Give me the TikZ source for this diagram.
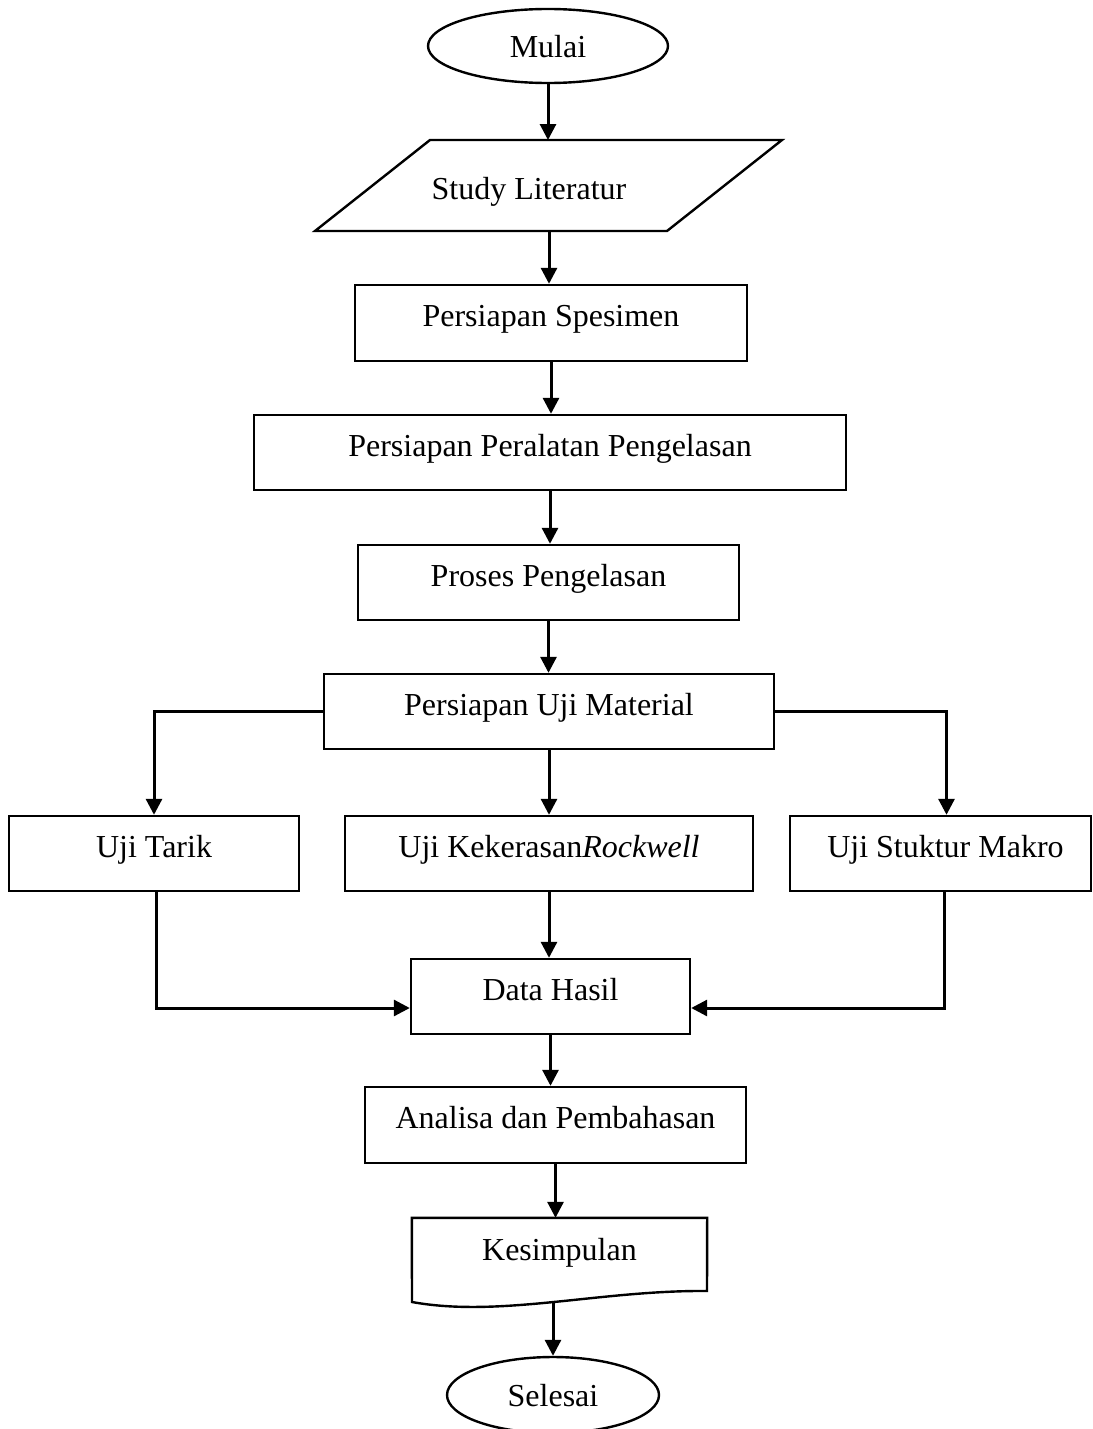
\documentclass[tikz,border=0pt]{standalone}
\usepackage{fontspec}
\setmainfont{Liberation Serif}
\usetikzlibrary{arrows.meta,shapes.geometric}
\begin{document}
\begin{tikzpicture}[x=1pt,y=-1pt,
  font=\fontsize{32}{38}\selectfont,
  shapeline/.style={draw=black,line width=2.4pt},
  procbox/.style={shapeline,rectangle,inner sep=0pt,text height=22pt,text depth=15pt},
  term/.style={shapeline,ellipse,inner sep=0pt,text height=22pt,text depth=0pt},
  arr/.style={draw=black,line width=3pt,-{Triangle[length=16pt,width=16pt]}}]
\useasboundingbox (0,0) rectangle (1092,1429);

% terminals
\node[term,minimum width=240pt,minimum height=74pt] (mulai) at (548,46) {Mulai};
\node[term,minimum width=212pt,minimum height=76pt] (sel) at (553,1395) {Selesai};

% input parallelogram
\coordinate (litT) at (548,140);
\coordinate (litB) at (549,231);
\draw[shapeline] (430,140) -- (782,140) -- (667,231) -- (315,231) -- cycle;
\node[text height=22pt,text depth=7pt,inner sep=0pt] (lit) at (529,192) {Study Literatur};

% process boxes
\node[procbox,minimum width=392pt,minimum height=76pt] (spes) at (551,323) {Persiapan Spesimen};
\node[procbox,minimum width=592pt,minimum height=75pt] (alat) at (550,452.5) {Persiapan Peralatan Pengelasan};
\node[procbox,minimum width=381pt,minimum height=75pt] (proses) at (548.5,582.5) {Proses Pengelasan};
\node[procbox,minimum width=450pt,minimum height=75pt] (uji) at (549,711.5) {Persiapan Uji Material};
\node[procbox,minimum width=290pt,minimum height=75pt] (tarik) at (154,853.5) {Uji Tarik};
\node[procbox,minimum width=408pt,minimum height=75pt] (keras) at (549,853.5) {Uji Kekerasan\textit{Rockwell}};
\node[procbox,minimum width=301pt,minimum height=75pt] (makro) at (940.5,853.5) {\hspace*{10pt}Uji Stuktur Makro};
\node[procbox,minimum width=279pt,minimum height=75pt] (data) at (550.5,996.5) {Data Hasil};
\node[procbox,minimum width=381pt,minimum height=76pt] (ana) at (555.5,1125) {Analisa dan Pembahasan};

% document shape
\node[rectangle,inner sep=0pt,minimum width=295pt,minimum height=84pt,text height=22pt,text depth=21pt] (kes) at (559.5,1260) {Kesimpulan};
\draw[shapeline] (kes.north west) -- (kes.north east) -- (707,1291)
  .. controls (600,1290) and (500,1318) .. (412,1302) -- cycle;

% connectors
\draw[arr] (mulai.south) -- (litT);
\draw[arr] (litB) -- (litB |- spes.north);
\draw[arr] (spes.south) -- (spes.south |- alat.north);
\draw[arr] (alat.south) -- (alat.south |- proses.north);
\draw[arr] (proses.south) -- (proses.south |- uji.north);
\draw[arr] (uji.west) -| (tarik.north);
\draw[arr] (uji.south) -- (uji.south |- keras.north);
\draw[arr] (uji.east) -| ([xshift=6pt]makro.north);
\draw[arr] ([xshift=2pt]tarik.south) |- ([yshift=-11.5pt]data.west);
\draw[arr] (keras.south) -- (keras.south |- data.north);
\draw[arr] ([xshift=4pt]makro.south) |- ([yshift=-11.5pt]data.east);
\draw[arr] (data.south) -- (data.south |- ana.north);
\draw[arr] (ana.south) -- (ana.south |- kes.north);
\draw[arr] (sel.north |- kes.south) -- (sel.north);
\end{tikzpicture}
\end{document}
